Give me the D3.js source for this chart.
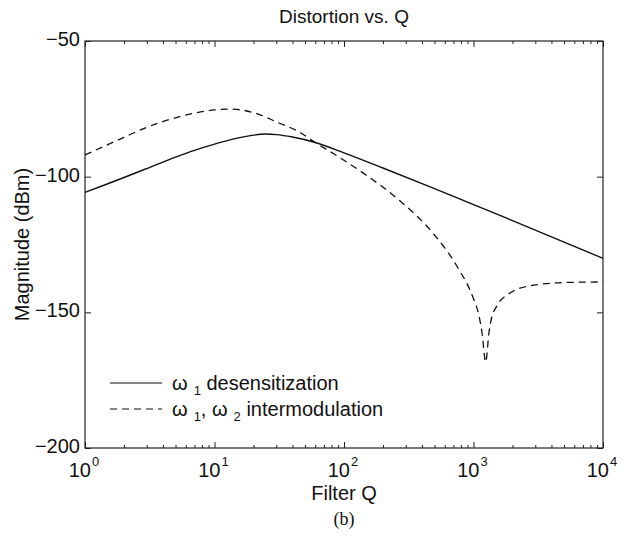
<!DOCTYPE html>
<html>
<head>
<meta charset="utf-8">
<script src="https://cdn.jsdelivr.net/npm/d3@7"></script>
<style>
  body { margin: 0; background: #fff; }
  text { font-family: "Liberation Sans", Arial, sans-serif; fill: #111; }
</style>
</head>
<body>
<div id="chart"></div>
<script>
// values
var qDesens = [1, 1.5, 2, 3, 5, 7, 10, 15, 20, 25, 30, 40, 60, 100, 200, 500, 1000, 2000, 5000, 10000];
var dbDesens = [-105.8, -102.6, -100.3, -97, -92.8, -90.3, -88, -85.8, -84.7, -84.3, -84.5, -85.4, -87.4, -91.2, -96.8, -104.4, -110.3, -116.2, -124.1, -130.1];

var qInter = [1, 1.5, 2, 3, 5, 7, 10, 13, 17, 22, 30, 45, 60, 93, 150, 270, 490, 745, 1000, 1100, 1165, 1242, 1320, 1380, 1500, 1900, 2900, 5200, 10000];
var dbInter = [-92, -88.2, -85.5, -81.8, -78.3, -76.6, -75.4, -75.1, -75.6, -77, -79.8, -83.5, -87.4, -93, -99.6, -108.9, -121, -133, -145, -151, -157.7, -168.3, -157, -152, -148, -143, -140, -139, -138.8];

var xTicks = [1, 10, 100, 1000, 10000];
var xExps = ["0", "1", "2", "3", "4"];
var yTicks = [-50, -100, -150, -200];

var margin = {top: 41, right: 29, bottom: 90, left: 85},
width = 632 - margin.left - margin.right,
height = 538 - margin.top - margin.bottom;

var svg = d3.select("#chart")
.append("svg")
  .attr("width", 632)
  .attr("height", 538)
.append("g")
  .attr("transform", "translate(" + margin.left + "," + margin.top + ")");

var x = d3.scaleLog().domain([1, 10000]).range([0, width]);
var y = d3.scaleLinear().domain([-200, -50]).range([height, 0]);

// minor ticks 2..9 per decade
var minor = [];
for (var e = 0; e < 4; e++) {
  for (var m = 2; m < 10; m++) minor.push(m * Math.pow(10, e));
}

function tickLines(axis, values, size) {
  return axis.tickValues(values).tickSize(size).tickFormat("");
}

svg.append("g").attr("transform", "translate(0," + height + ")")
  .call(tickLines(d3.axisBottom(x), xTicks, -6));
svg.append("g").attr("transform", "translate(0," + height + ")")
  .call(tickLines(d3.axisBottom(x), minor, -3));
svg.append("g")
  .call(tickLines(d3.axisTop(x), xTicks, -6));
svg.append("g")
  .call(tickLines(d3.axisTop(x), minor, -3));
svg.append("g")
  .call(tickLines(d3.axisLeft(y), yTicks, -6));
svg.append("g").attr("transform", "translate(" + width + ",0)")
  .call(tickLines(d3.axisRight(y), yTicks, -6));

svg.selectAll(".domain").remove();
svg.selectAll(".tick line").attr("stroke", "#222").attr("stroke-width", 1);

svg.append("rect")
  .attr("width", width)
  .attr("height", height)
  .attr("fill", "none")
  .attr("stroke", "#222")
  .attr("stroke-width", 1.2);

// tick labels: base "10" and the exponent as separate texts
svg.selectAll("xbase")
  .data(xTicks)
  .enter()
  .append("text")
    .attr("x", function(d){ return x(d) + 6 })
    .attr("y", height + 29)
    .attr("text-anchor", "end")
    .style("font-size", "20px")
    .text("10");

svg.selectAll("xexp")
  .data(xTicks)
  .enter()
  .append("text")
    .attr("x", function(d){ return x(d) + 7 })
    .attr("y", height + 18)
    .style("font-size", "13px")
    .text(function(d, i){ return xExps[i] });

svg.selectAll("ylabels")
  .data(yTicks)
  .enter()
  .append("text")
    .attr("x", -5)
    .attr("y", function(d){ return y(d) + 5 })
    .attr("text-anchor", "end")
    .style("font-size", "20px")
    .text(function(d){ return "\u2212" + Math.abs(d) });

// series
var line = d3.line()
  .x(function(d){ return x(d[0]) })
  .y(function(d){ return y(d[1]) })
  .curve(d3.curveMonotoneX);

svg.append("path")
  .datum(qDesens.map(function(q, i){ return [q, dbDesens[i]] }))
  .attr("d", line)
  .attr("fill", "none")
  .attr("stroke", "#111")
  .attr("stroke-width", 1.4);

svg.append("path")
  .datum(qInter.map(function(q, i){ return [q, dbInter[i]] }))
  .attr("d", line)
  .attr("fill", "none")
  .attr("stroke", "#111")
  .attr("stroke-width", 1.3)
  .attr("stroke-dasharray", "7,5");

// titles
svg.append("text")
  .attr("x", width / 2)
  .attr("y", -18)
  .attr("text-anchor", "middle")
  .style("font-size", "19px")
  .text("Distortion vs. Q");

svg.append("text")
  .attr("x", width / 2)
  .attr("y", height + 52)
  .attr("text-anchor", "middle")
  .style("font-size", "20px")
  .text("Filter Q");

svg.append("text")
  .attr("transform", "translate(-56," + (height / 2) + ")rotate(-90)")
  .attr("text-anchor", "middle")
  .style("font-size", "20px")
  .text("Magnitude (dBm)");

svg.append("text")
  .attr("x", width / 2)
  .attr("y", height + 77)
  .attr("text-anchor", "middle")
  .style("font-family", "'Liberation Serif', 'Times New Roman', serif")
  .style("font-size", "18px")
  .text("(b)");

// legend: [text, subscript?]
var legend = [
  {dash: null, parts: [["\u03c9", 0], ["1", 1], [" desensitization", 0]]},
  {dash: "7,5", parts: [["\u03c9", 0], ["1", 1], [", \u03c9", 0], ["2", 1], [" intermodulation", 0]]}
];

legend.forEach(function(item, i) {
  var ly = 342 + i * 26;
  svg.append("line")
    .attr("x1", 25).attr("x2", 77)
    .attr("y1", ly).attr("y2", ly)
    .attr("stroke", "#111")
    .attr("stroke-width", 1.2)
    .attr("stroke-dasharray", item.dash);
  var t = svg.append("text")
    .attr("x", 87)
    .attr("y", ly + 7)
    .style("font-size", "20px");
  var low = false;
  item.parts.forEach(function(p) {
    if (p[1]) {
      t.append("tspan").attr("dx", 6).attr("dy", 5).style("font-size", "13px").text(p[0]);
      low = true;
    } else {
      t.append("tspan").attr("dy", low ? -5 : 0).text(p[0]);
      low = false;
    }
  });
});
</script>
</body>
</html>
